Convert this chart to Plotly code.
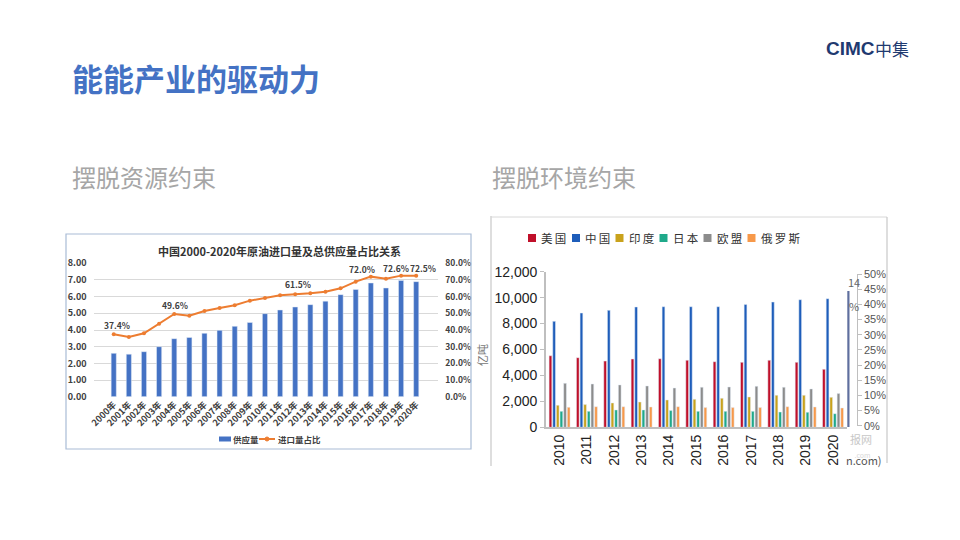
import plotly.graph_objects as go

W, H = 960, 540
def px(x):
    return x / W
def py(y):
    return 1 - y / H

CJK = "Noto Sans CJK SC"
ARIAL = "Liberation Sans"

# ---------------- data: left chart ----------------
years_a = ["2000年", "2001年", "2002年", "2003年", "2004年", "2005年", "2006年",
           "2007年", "2008年", "2009年", "2010年", "2011年", "2012年", "2013年",
           "2014年", "2015年", "2016年", "2017年", "2018年", "2019年", "2020年"]
supply = [2.60, 2.55, 2.70, 3.00, 3.48, 3.55, 3.80, 3.98, 4.22, 4.45, 4.98,
          5.20, 5.38, 5.52, 5.73, 6.12, 6.43, 6.82, 6.52, 6.97, 6.90]
import_share = [0.374, 0.358, 0.380, 0.438, 0.496, 0.486, 0.514, 0.532, 0.548,
                0.576, 0.592, 0.608, 0.615, 0.620, 0.630, 0.650, 0.690, 0.720,
                0.708, 0.726, 0.725]
labeled_idx = [0, 4, 12, 17, 19, 20]
label_shift = {0: (3, 9), 4: (1, 9), 12: (3, 10), 17: (-9, 8), 19: (-5, 8), 20: (7, 8)}
legend_a = ["供应量", "进口量占比"]

# ---------------- data: right chart ----------------
years_b = ["2010", "2011", "2012", "2013", "2014", "2015", "2016", "2017", "2018", "2019", "2020"]
us     = [5520, 5370, 5110, 5270, 5290, 5170, 5060, 5010, 5170, 5010, 4470]
china  = [8170, 8810, 9020, 9280, 9300, 9300, 9300, 9480, 9660, 9840, 9920]
india  = [1700, 1750, 1880, 1950, 2110, 2160, 2240, 2340, 2470, 2470, 2310]
japan  = [1230, 1230, 1340, 1340, 1290, 1230, 1230, 1230, 1180, 1160, 1050]
eu     = [3390, 3340, 3270, 3190, 3030, 3090, 3110, 3160, 3090, 2960, 2600]
russia = [1540, 1590, 1590, 1570, 1590, 1520, 1520, 1520, 1590, 1570, 1490]
series_b = [("美国", us, "#C0102A"), ("中国", china, "#1E5DBA"), ("印度", india, "#C9A21C"),
            ("日本", japan, "#1FA98A"), ("欧盟", eu, "#8C8C8C"), ("俄罗斯", russia, "#F7994A")]
legend_b_x = [528, 572, 615.5, 659.5, 703.5, 747.5]

BLUE_A = "#4472C4"
ORANGE_A = "#ED7D31"

fig = go.Figure()

# left chart
fig.add_trace(go.Bar(x=years_a, y=supply, name=legend_a[0], marker_color=BLUE_A,
                     width=0.34, xaxis="x", yaxis="y", showlegend=False))
fig.add_trace(go.Scatter(x=years_a, y=import_share, name=legend_a[1], mode="lines+markers",
                         line=dict(color=ORANGE_A, width=2), marker=dict(size=4, color=ORANGE_A),
                         xaxis="x", yaxis="y2", showlegend=False))

# right chart
for name, vals, col in series_b:
    fig.add_trace(go.Bar(x=years_b, y=vals, name=name, marker_color=col,
                         xaxis="x2", yaxis="y3", showlegend=False))
fig.add_trace(go.Scatter(x=[], y=[], xaxis="x2", yaxis="y4", showlegend=False))

annotations = []
for i in labeled_idx:
    xs, ys = label_shift[i]
    annotations.append(dict(x=years_a[i], y=import_share[i], xref="x", yref="y2",
                            text=f"{import_share[i]*100:.1f}%", showarrow=False,
                            xshift=xs, yshift=ys, yanchor="middle",
                            font=dict(family=CJK, size=8.5, color="#404040", weight="bold")))

def txt(x, y, text, size, color, weight="normal", family=CJK, xanchor="left", angle=0):
    annotations.append(dict(x=px(x), y=py(y), xref="paper", yref="paper", text=text,
                            showarrow=False, xanchor=xanchor, yanchor="middle", textangle=angle,
                            font=dict(family=family, size=size, color=color, weight=weight)))

txt(70, 77, "能能产业的驱动力", 31, "#4472C4", weight="bold")
txt(70, 176, "摆脱资源约束", 24, "#A6A6A6")
txt(490, 176, "摆脱环境约束", 24, "#A6A6A6")
txt(824, 48, "<b>CIMC</b>", 19, "#1F3A70", family=ARIAL)
txt(873, 48, "中集", 17, "#1F3A70")
txt(279, 251, "中国2000-2020年原油进口量及总供应量占比关系", 11, "#333333", weight="bold", xanchor="center")
txt(482, 355, "亿吨", 11, "#777777", xanchor="center", angle=-90)
txt(846, 282, "14", 11, "#666666")
txt(847, 306, "%", 11, "#666666")
txt(848, 445, "报网<br><span style='font-size:7px;color:#D8D8D8'>  .com</span>", 11, "#C8C8C8")
txt(844, 460, "n.com)", 11, "#555555")

# manual legend, left chart
txt(231, 439, legend_a[0], 8.5, "#404040", weight="bold")
txt(276, 439, legend_a[1], 8.5, "#404040", weight="bold")
# manual legend, right chart
for (name, vals, col), lx in zip(series_b, legend_b_x):
    txt(lx + 11, 238, "\u2009".join(name), 11.5, "#333333")

shapes = [
    dict(type="rect", xref="paper", yref="paper", x0=px(66), x1=px(471), y0=py(449), y1=py(234),
         line=dict(color="#A9BCD6", width=1.2)),
    dict(type="line", xref="paper", yref="paper", x0=px(491), x1=px(491), y0=py(216), y1=py(466),
         line=dict(color="#C8C8C8", width=1.2)),
    dict(type="line", xref="paper", yref="paper", x0=px(491), x1=px(887), y0=py(217), y1=py(217),
         line=dict(color="#D8D8D8", width=1)),
    dict(type="line", xref="paper", yref="paper", x0=px(887), x1=px(887), y0=py(217), y1=py(463),
         line=dict(color="#C8C8C8", width=1.2)),
    dict(type="rect", xref="paper", yref="paper", x0=px(847.3), x1=px(849.5), y0=py(427), y1=py(291),
         line=dict(width=0), fillcolor="#5F6F9E"),
    # legend symbols, left chart
    dict(type="rect", xref="paper", yref="paper", x0=px(219), x1=px(231), y0=py(441.5), y1=py(436.5),
         line=dict(width=0), fillcolor=BLUE_A),
    dict(type="line", xref="paper", yref="paper", x0=px(259), x1=px(275), y0=py(439), y1=py(439),
         line=dict(color=ORANGE_A, width=2)),
    dict(type="circle", xref="paper", yref="paper", x0=px(265), x1=px(269), y0=py(441), y1=py(437),
         line=dict(color=ORANGE_A, width=1), fillcolor=ORANGE_A),
]
# legend symbols, right chart
for (name, vals, col), lx in zip(series_b, legend_b_x):
    shapes.append(dict(type="rect", xref="paper", yref="paper", x0=px(lx), x1=px(lx + 8),
                       y0=py(242), y1=py(234), line=dict(width=0), fillcolor=col))

tick_dark = "#404040"
fig.update_layout(
    width=W, height=H, margin=dict(l=0, r=0, t=0, b=0, autoexpand=False),
    paper_bgcolor="white", plot_bgcolor="rgba(0,0,0,0)",
    barmode="group", bargap=0.2, bargroupgap=0.25,
    font=dict(family=CJK),
    showlegend=False,
    xaxis=dict(domain=[px(93.5), px(438.2)], anchor="y", tickangle=-45, ticks="", automargin=False,
               showline=False, tickfont=dict(family=CJK, size=9, color=tick_dark, weight="bold")),
    yaxis=dict(domain=[py(396.7), py(263.3)], anchor="x", range=[0, 8], dtick=1, tickformat=".2f",
               gridcolor="#D9D9D9", zeroline=False, showline=False, ticklabelstandoff=6, automargin=False,
               tickfont=dict(family=CJK, size=9, color=tick_dark, weight="bold")),
    yaxis2=dict(overlaying="y", anchor="x", side="right", range=[0, 0.8], dtick=0.1, tickformat=".1%",
                showgrid=False, zeroline=False, ticklabelstandoff=6, automargin=False,
                tickfont=dict(family=CJK, size=8.5, color=tick_dark, weight="bold")),
    xaxis2=dict(domain=[px(545.9), px(846.7)], anchor="y3", tickangle=-90, ticks="", automargin=False,
                showline=True, linecolor="#BFBFBF", linewidth=1.5,
                tickfont=dict(family=ARIAL, size=14, color="#222222")),
    yaxis3=dict(domain=[py(427.3), py(271.7)], anchor="x2", range=[0, 12000], dtick=2000,
                tickformat=",", showgrid=False, zeroline=False, showline=True, automargin=False,
                linecolor="#BFBFBF", linewidth=1.5, ticks="outside", ticklen=4, tickcolor="#BFBFBF",
                tickfont=dict(family=ARIAL, size=14, color="#222222")),
    yaxis4=dict(domain=[py(425.7), py(274)], anchor="free", position=px(856.7), side="right",
                range=[0, 0.5], dtick=0.05, tickformat=".0%", showgrid=False, zeroline=False,
                showline=True, linecolor="#BFBFBF", ticks="outside", ticklen=4, tickcolor="#BFBFBF",
                automargin=False, tickfont=dict(family=ARIAL, size=11, color="#555555")),
    annotations=annotations, shapes=shapes,
)

fig.write_html("out.html", config={"displayModeBar": False},
               post_script="document.body.style.margin='0';document.body.style.overflow='hidden';")
